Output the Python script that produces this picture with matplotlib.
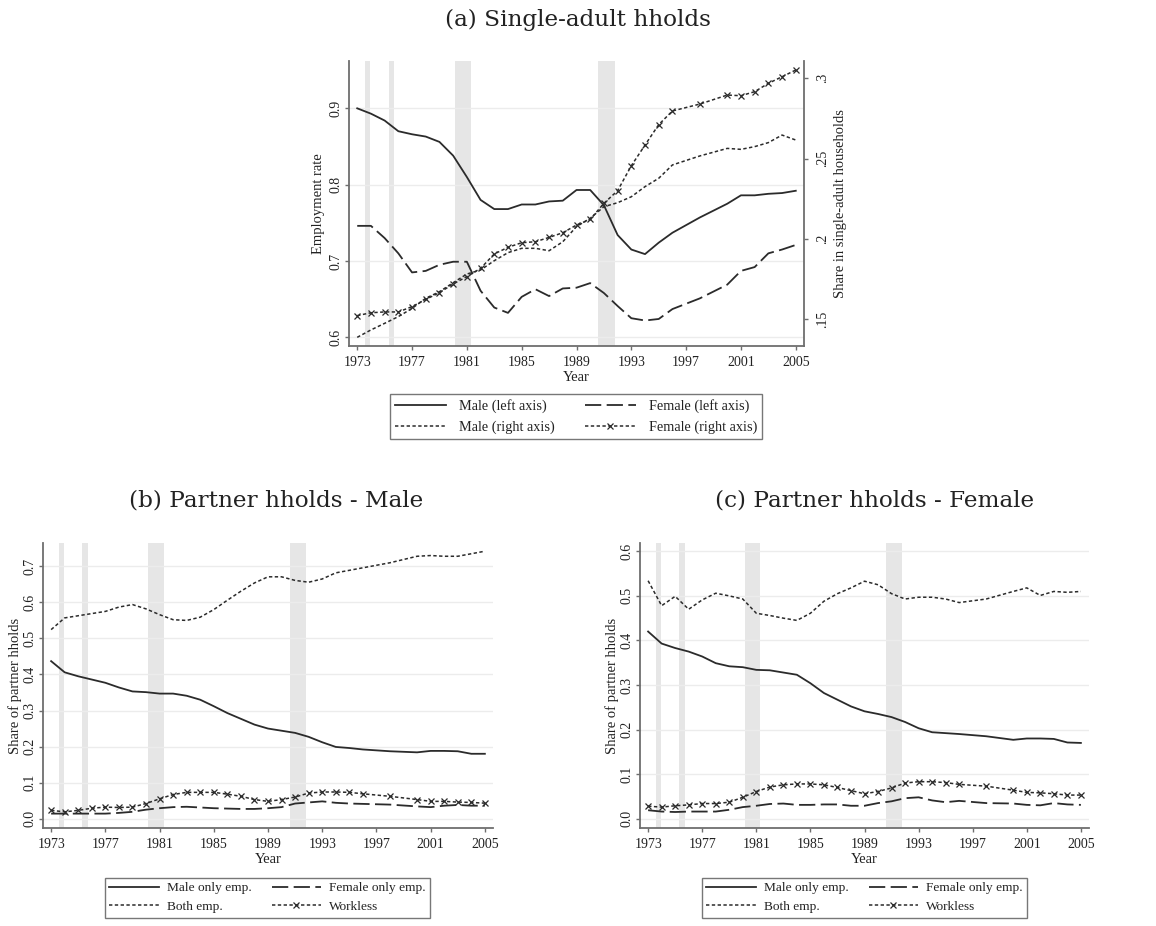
import matplotlib
matplotlib.use("Agg")
import matplotlib.pyplot as plt
from matplotlib.lines import Line2D

# Survey years (1997 and 1999 are not available)
years = [1973, 1974, 1975, 1976, 1977, 1978, 1979, 1980, 1981, 1982, 1983, 1984,
         1985, 1986, 1987, 1988, 1989, 1990, 1991, 1992, 1993, 1994, 1995, 1996,
         1998, 2000, 2001, 2002, 2003, 2004, 2005]

# (a) Single-adult households
single_male_emp = [0.900, 0.893, 0.884, 0.870, 0.866, 0.863, 0.856, 0.838, 0.810, 0.780,
                   0.768, 0.768, 0.774, 0.774, 0.778, 0.779, 0.793, 0.793, 0.773, 0.734,
                   0.715, 0.709, 0.724, 0.737, 0.757, 0.775, 0.786, 0.786, 0.788, 0.789,
                   0.792]
single_female_emp = [0.746, 0.746, 0.730, 0.710, 0.685, 0.687, 0.695, 0.699, 0.699, 0.661,
                     0.639, 0.632, 0.653, 0.663, 0.654, 0.664, 0.665, 0.671, 0.658, 0.641,
                     0.625, 0.622, 0.624, 0.637, 0.651, 0.669, 0.687, 0.692, 0.710, 0.715,
                     0.721]
single_male_share = [0.1388, 0.1434, 0.1475, 0.1517, 0.1568, 0.1631, 0.1672, 0.1728, 0.1782,
                     0.1807, 0.1865, 0.1915, 0.1942, 0.1942, 0.1927, 0.1983, 0.2077, 0.2129,
                     0.2201, 0.2226, 0.2263, 0.2326, 0.2378, 0.2461, 0.2517, 0.2564, 0.2558,
                     0.2575, 0.2600, 0.2647, 0.2616]
single_female_share = [0.1523, 0.1541, 0.1546, 0.1546, 0.1579, 0.1624, 0.1666, 0.1720, 0.1766,
                       0.1817, 0.1907, 0.1948, 0.1977, 0.1983, 0.2010, 0.2039, 0.2087, 0.2122,
                       0.2222, 0.2301, 0.2456, 0.2585, 0.2712, 0.2797, 0.2840, 0.2896, 0.2892,
                       0.2917, 0.2969, 0.3010, 0.3052]

# (b) Partner households - male
pm_male_only = [0.437, 0.406, 0.395, 0.386, 0.377, 0.364, 0.353, 0.351, 0.347, 0.347, 0.341,
                0.330, 0.312, 0.293, 0.277, 0.261, 0.250, 0.244, 0.238, 0.227, 0.212, 0.199,
                0.196, 0.192, 0.187, 0.184, 0.188, 0.188, 0.187, 0.180, 0.180]
pm_female_only = [0.014, 0.014, 0.014, 0.014, 0.014, 0.016, 0.019, 0.025, 0.029, 0.032, 0.033,
                  0.031, 0.029, 0.028, 0.027, 0.027, 0.029, 0.032, 0.042, 0.045, 0.048, 0.044,
                  0.042, 0.041, 0.039, 0.034, 0.032, 0.036, 0.038, 0.036, 0.036]
pm_both = [0.5245, 0.557, 0.563, 0.569, 0.575, 0.587, 0.594, 0.582, 0.566, 0.552, 0.550,
           0.559, 0.580, 0.606, 0.631, 0.654, 0.671, 0.671, 0.661, 0.656, 0.665, 0.682,
           0.689, 0.696, 0.710, 0.728, 0.730, 0.728, 0.728, 0.735, 0.742]
pm_workless = [0.023, 0.019, 0.023, 0.029, 0.032, 0.031, 0.032, 0.042, 0.055, 0.067, 0.073,
               0.073, 0.073, 0.068, 0.062, 0.053, 0.048, 0.053, 0.060, 0.071, 0.074, 0.074,
               0.073, 0.069, 0.062, 0.053, 0.048, 0.048, 0.046, 0.045, 0.043]

# (c) Partner households - female
pf_male_only = [0.420, 0.393, 0.383, 0.375, 0.364, 0.349, 0.342, 0.340, 0.334, 0.333, 0.328,
                0.323, 0.304, 0.282, 0.267, 0.252, 0.241, 0.235, 0.228, 0.217, 0.203, 0.194,
                0.192, 0.190, 0.185, 0.177, 0.180, 0.180, 0.179, 0.171, 0.170]
pf_female_only = [0.019, 0.016, 0.015, 0.016, 0.016, 0.016, 0.020, 0.026, 0.029, 0.033, 0.034,
                  0.031, 0.031, 0.032, 0.032, 0.029, 0.029, 0.035, 0.039, 0.046, 0.048, 0.041,
                  0.037, 0.040, 0.035, 0.034, 0.031, 0.030, 0.035, 0.032, 0.031]
pf_both = [0.534, 0.478, 0.499, 0.470, 0.491, 0.506, 0.500, 0.493, 0.461, 0.456, 0.450,
           0.445, 0.461, 0.488, 0.505, 0.518, 0.533, 0.525, 0.505, 0.493, 0.497, 0.497,
           0.493, 0.485, 0.493, 0.510, 0.518, 0.501, 0.510, 0.508, 0.510]
pf_workless = [0.028, 0.026, 0.029, 0.031, 0.034, 0.034, 0.037, 0.048, 0.061, 0.071, 0.076,
               0.078, 0.078, 0.076, 0.070, 0.063, 0.056, 0.061, 0.069, 0.080, 0.083, 0.083,
               0.081, 0.077, 0.073, 0.064, 0.059, 0.058, 0.056, 0.053, 0.053]

# Recession periods (shaded)
recessions = [(1973.55, 1973.95), (1975.3, 1975.7), (1980.15, 1981.3), (1990.6, 1991.8)]

xticks = [1973, 1977, 1981, 1985, 1989, 1993, 1997, 2001, 2005]

SERIF = ["Liberation Serif", "DejaVu Serif"]
TITLE_FONT = ["DejaVu Serif"]
LINE_COLOR = "#2b2b2b"
SPINE_COLOR = "#6e6e6e"
TEXT_COLOR = "#222222"
TICK_FS = 10
LABEL_FS = 10.5
TITLE_FS = 16.7

plt.rcParams["font.family"] = SERIF

fig = plt.figure(figsize=(11.56, 9.26), dpi=100)
W, H = 1156, 926


def px_axes(left, top, right, bottom):
    return fig.add_axes([left / W, 1 - bottom / H, (right - left) / W, (bottom - top) / H])


styles = {
    "solid": dict(linestyle="-", lw=1.3),
    "long": dict(linestyle=(0, (9, 3)), lw=1.3),
    "short": dict(linestyle=(0, (2.2, 1.6)), lw=1.1),
    "marked": dict(linestyle=(0, (2.2, 1.6)), lw=1.1, marker="x", markersize=4,
                   markeredgewidth=0.9),
}


def style_axes(ax, yticks, ylabels, ylim):
    ax.set_xlim(1972.4, 2005.6)
    ax.set_ylim(*ylim)
    ax.set_xticks(xticks)
    ax.set_xticklabels([str(t) for t in xticks], fontsize=TICK_FS)
    ax.set_yticks(yticks)
    ax.set_yticklabels(ylabels, fontsize=TICK_FS, rotation=90, va="center")
    ax.grid(axis="y", color="#ececec", lw=1.0)
    ax.set_axisbelow(True)
    for s in ["top", "right"]:
        ax.spines[s].set_visible(False)
    for s in ["left", "bottom"]:
        ax.spines[s].set_color(SPINE_COLOR)
        ax.spines[s].set_linewidth(1.3)
    ax.tick_params(colors=SPINE_COLOR, labelcolor=TEXT_COLOR, length=3, width=1.0)
    ax.tick_params(axis="y", pad=2)
    ax.tick_params(axis="x", pad=4.5)
    ax.set_xlabel("Year", fontsize=LABEL_FS, labelpad=1, color=TEXT_COLOR)
    for a, b in recessions:
        ax.axvspan(a, b, color="#e6e6e6", lw=0, zorder=0.5)


def add_legend(handles, labels, bbox, fs, hl, htp, cs, ls):
    leg = fig.legend(handles, labels, ncol=2, loc="center",
                     bbox_to_anchor=bbox, bbox_transform=fig.transFigure,
                     frameon=True, fancybox=False, fontsize=fs, handlelength=hl,
                     columnspacing=cs, handletextpad=htp, labelspacing=ls,
                     borderpad=0.35)
    leg.get_frame().set_edgecolor("#555555")
    leg.get_frame().set_linewidth(1.0)
    for t in leg.get_texts():
        t.set_color(TEXT_COLOR)
    return leg


def handle(kind):
    kw = dict(styles[kind])
    if kind == "marked":
        return Line2D([0], [0], color=LINE_COLOR, markevery=[1], **kw)
    return Line2D([0], [0], color=LINE_COLOR, **kw)


def legend_order(items):
    # legend is filled column by column; reorder so entries read row by row
    return [items[0], items[2], items[1], items[3]]


# ---------- (a) Single-adult households ----------
ax_a = px_axes(349, 61, 804, 346)
style_axes(ax_a, [0.6, 0.7, 0.8, 0.9], ["0.6", "0.7", "0.8", "0.9"], (0.5886, 0.962))
ax_a.set_ylabel("Employment rate", fontsize=LABEL_FS, color=TEXT_COLOR, labelpad=3)
ax_a.plot(years, single_male_emp, color=LINE_COLOR, **styles["solid"])
ax_a.plot(years, single_female_emp, color=LINE_COLOR, **styles["long"])

ax_a2 = ax_a.twinx()
ax_a2.set_ylim(0.1334, 0.3108)
ax_a2.set_yticks([0.15, 0.2, 0.25, 0.3])
ax_a2.set_yticklabels([".15", ".2", ".25", ".3"], fontsize=TICK_FS, rotation=90, va="center")
for s in ["top", "left", "bottom"]:
    ax_a2.spines[s].set_visible(False)
ax_a2.spines["right"].set_color(SPINE_COLOR)
ax_a2.spines["right"].set_linewidth(1.3)
ax_a2.tick_params(colors=SPINE_COLOR, labelcolor=TEXT_COLOR, length=3, width=1.0, pad=6)
ax_a2.set_ylabel("Share in single-adult households", fontsize=LABEL_FS, color=TEXT_COLOR,
                 labelpad=3)
ax_a2.plot(years, single_male_share, color=LINE_COLOR, **styles["short"])
ax_a2.plot(years, single_female_share, color=LINE_COLOR, **styles["marked"])

add_legend(legend_order([handle("solid"), handle("long"), handle("short"), handle("marked")]),
           legend_order(["Male (left axis)", "Female (left axis)", "Male (right axis)",
                         "Female (right axis)"]),
           ((391 + 761) / 2 / W, 1 - (393 + 440) / 2 / H),
           fs=10.3, hl=3.6, htp=0.9, cs=2.1, ls=0.55)

fig.text(578 / W, 1 - 20 / H, "(a) Single-adult hholds", ha="center", va="center",
         fontsize=TITLE_FS, family=TITLE_FONT, color=TEXT_COLOR)

# ---------- (b) and (c) Partner households ----------
partner_labels = ["Male only emp.", "Female only emp.", "Both emp.", "Workless"]
panels = [
    (43, 493, "(b) Partner hholds - Male", 276,
     (pm_male_only, pm_female_only, pm_both, pm_workless),
     [0.0, 0.1, 0.2, 0.3, 0.4, 0.5, 0.6, 0.7], (-0.0259, 0.7648), (108, 427)),
    (640, 1089, "(c) Partner hholds - Female", 875,
     (pf_male_only, pf_female_only, pf_both, pf_workless),
     [0.0, 0.1, 0.2, 0.3, 0.4, 0.5, 0.6], (-0.0209, 0.6187), (705, 1024)),
]
for left, right, title, tx, series, yt, ylim, (lx0, lx1) in panels:
    ax = px_axes(left, 543, right, 828)
    style_axes(ax, yt, [f"{v:.1f}" for v in yt], ylim)
    ax.set_ylabel("Share of partner hholds", fontsize=LABEL_FS, color=TEXT_COLOR, labelpad=1)
    male_only, female_only, both, workless = series
    ax.plot(years, male_only, color=LINE_COLOR, **styles["solid"])
    ax.plot(years, female_only, color=LINE_COLOR, **styles["long"])
    ax.plot(years, both, color=LINE_COLOR, **styles["short"])
    ax.plot(years, workless, color=LINE_COLOR, **styles["marked"])
    add_legend(legend_order([handle("solid"), handle("long"), handle("short"),
                             handle("marked")]),
               legend_order(partner_labels), ((lx0 + lx1) / 2 / W, 1 - (875 + 920) / 2 / H),
               fs=9.6, hl=3.7, htp=0.6, cs=1.5, ls=0.45)
    fig.text(tx / W, 1 - 501 / H, title, ha="center", va="center", fontsize=TITLE_FS,
             family=TITLE_FONT, color=TEXT_COLOR)

fig.savefig("out.png", dpi=100, facecolor="white")
